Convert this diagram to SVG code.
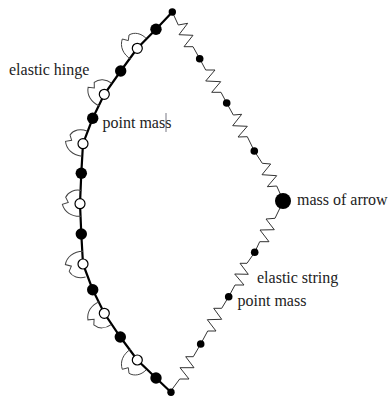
<svg xmlns="http://www.w3.org/2000/svg" width="388" height="398" viewBox="0 0 388 398">
<style>
text{font-family:"Liberation Serif","Times New Roman",serif;font-size:16px;fill:#222}
.beam{fill:none;stroke:#000;stroke-width:2.2}
.spring{fill:none;stroke:#333;stroke-width:1}
.hinge{fill:none;stroke:#444;stroke-width:1}
.b{fill:#000}
.w{fill:#fff;stroke:#000;stroke-width:1.2}
</style>
<defs>
<path id="h" class="hinge" d="M8.700-10C4-15-3-16.500-8.300-13.300L-9-7.700-15-9.300C-17.500-2-14.500 6-6.300 11"/>
</defs>
<rect width="388" height="398" fill="#fff"/>
<g id="connectors">
<path class="beam" d="M172.300 12L156 29.300 137.300 48.300 120.700 71 104.300 94.300 92.700 118.300 83 143.700 81.300 173.300 80 203.700 81.300 234 83 264 92.700 289.700 104.300 313.300 120.300 337 137.300 360 156 378 171 392.300"/>
<path class="spring" d="M172.300 12L178.300 25 187.700 23.300 179 34.700 193 35.300 184 46.700 193 46.700 199.700 58.700 205.700 70 215 70 205.700 81 220.700 81.700 211.700 92.300 221 92.300 226.700 103 233.300 115 241.700 114.300 232.700 125.700 247.300 126.300 238 137 247.300 136.700 254.300 151 262.300 163.300 270.700 164 262 174.700 276.700 175.700 267.300 186.700 276.700 186 283 200"/>
<path class="spring" d="M283 201.700L275 218.300 266 219 274.300 229.700 260 230 269 241.700 259.700 241.700 254.700 252.300 247 263.300 240 263.300 248.300 274.300 234.700 274 244 285 235 285 228.700 296.700 221.700 308.300 213.700 308.300 221.700 319.300 207.300 319.700 216 331 207.700 331 200.700 344 193.300 356.700 185.700 356.700 194 367.700 180 367.700 189 379 179.700 379 170.300 391.700"/>
<use href="#h" transform="translate(137.300 48.300)"/>
<use href="#h" transform="translate(104.300 94.300) rotate(-8)"/>
<use href="#h" transform="translate(83 143.700) rotate(-24)"/>
<use href="#h" transform="translate(80 203.700) rotate(-34)"/>
<use href="#h" transform="translate(83 264) scale(1 -1) rotate(-30)"/>
<use href="#h" transform="translate(104.300 313.300) scale(1 -1) rotate(-10)"/>
<use href="#h" transform="translate(137.300 360) scale(1 -1)"/>
</g>
<g id="rigid-masses">
<circle class="b" cx="172.300" cy="12" r="3.700"/>
<circle class="b" cx="156" cy="29.300" r="5.700"/>
<circle class="w" cx="137.300" cy="48.300" r="5"/>
<circle class="b" cx="120.700" cy="71" r="5.700"/>
<circle class="w" cx="104.300" cy="94.300" r="5"/>
<circle class="b" cx="92.700" cy="118.300" r="5.700"/>
<circle class="w" cx="83" cy="143.700" r="5"/>
<circle class="b" cx="81.300" cy="173.300" r="5.700"/>
<circle class="w" cx="80" cy="203.700" r="5"/>
<circle class="b" cx="81.300" cy="234" r="5.700"/>
<circle class="w" cx="83" cy="264" r="5"/>
<circle class="b" cx="92.700" cy="289.700" r="5.700"/>
<circle class="w" cx="104.300" cy="313.300" r="5"/>
<circle class="b" cx="120.300" cy="337" r="5.700"/>
<circle class="w" cx="137.300" cy="360" r="5"/>
<circle class="b" cx="156" cy="378" r="5.700"/>
<circle class="b" cx="171" cy="392.300" r="3.700"/>
</g>
<g id="string-masses">
<circle class="b" cx="199.700" cy="58.700" r="3.800"/>
<circle class="b" cx="226.700" cy="103" r="3.800"/>
<circle class="b" cx="254.300" cy="151" r="3.800"/>
<circle class="b" cx="254.700" cy="252.300" r="3.800"/>
<circle class="b" cx="228.700" cy="296.700" r="3.800"/>
<circle class="b" cx="200.700" cy="344" r="3.800"/>
</g>
<g id="arrow-mass"><circle class="b" cx="283" cy="201" r="8"/></g>
<g id="labels">
<text x="9" y="75">elastic hinge</text>
<text x="102.500" y="128">point mass</text>
<line x1="166" y1="113" x2="166" y2="132" stroke="#556" stroke-width=".8"/>
<text x="297" y="205">mass of arrow</text>
<text x="257" y="283">elastic string</text>
<text x="237.500" y="306">point mass</text>
</g>
</svg>
